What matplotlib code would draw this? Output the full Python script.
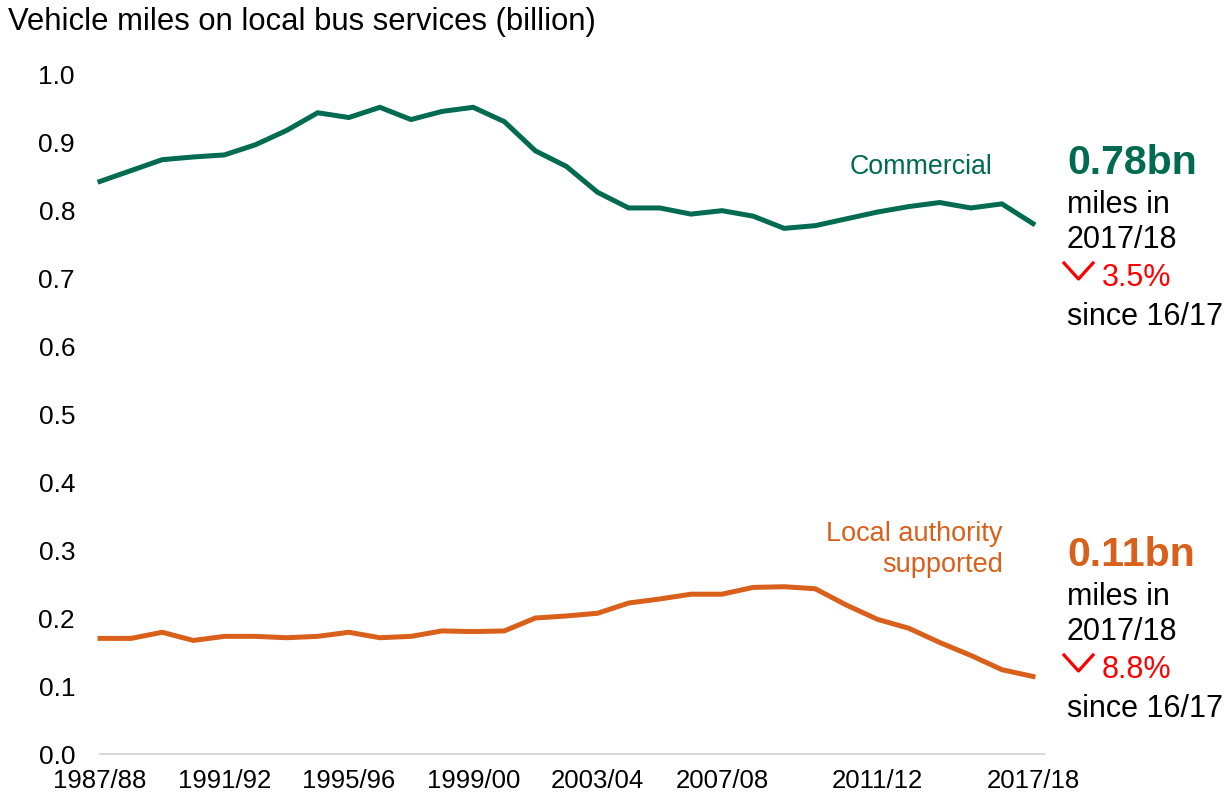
import numpy as np
import matplotlib
matplotlib.use("Agg")
import matplotlib.pyplot as plt
from matplotlib.lines import Line2D

plt.rcParams["font.family"] = ["Liberation Sans", "DejaVu Sans"]

# ---- data (billion vehicle miles) ----
years = [f"{y}/{str(y + 1)[-2:]}" for y in range(1987, 2018)]
commercial = [0.842, 0.858, 0.874, 0.878, 0.881, 0.896, 0.917, 0.943, 0.936, 0.951,
              0.933, 0.945, 0.951, 0.930, 0.887, 0.864, 0.826, 0.803, 0.803, 0.794,
              0.799, 0.791, 0.773, 0.777, 0.787, 0.797, 0.805, 0.811, 0.803, 0.809,
              0.780]
la_supported = [0.170, 0.170, 0.179, 0.167, 0.173, 0.173, 0.171, 0.173, 0.179, 0.171,
                0.173, 0.181, 0.180, 0.181, 0.200, 0.203, 0.207, 0.222, 0.228, 0.235,
                0.235, 0.245, 0.246, 0.243, 0.219, 0.198, 0.185, 0.164, 0.145, 0.124,
                0.114]
tick_idx = [0, 4, 8, 12, 16, 20, 25, 30]
tick_labels = ["1987/88", "1991/92", "1995/96", "1999/00", "2003/04", "2007/08",
               "2011/12", "2017/18"]
y_ticks = [0.0, 0.1, 0.2, 0.3, 0.4, 0.5, 0.6, 0.7, 0.8, 0.9, 1.0]

GREEN = "#006b50"
ORANGE = "#d8601a"
RED = "#ff0000"

W, H = 1231, 803
fig = plt.figure(figsize=(W / 100, H / 100), dpi=100)
ax = fig.add_axes([100 / W, 1 - 755 / H, 933 / W, 680 / H])

x = np.arange(len(years))
ax.plot(x, commercial, color=GREEN, lw=3.6, solid_joinstyle="miter", clip_on=False)
ax.plot(x, la_supported, color=ORANGE, lw=3.6, solid_joinstyle="miter", clip_on=False)

ax.set_xlim(0, len(years) - 1)
ax.set_ylim(0, 1.0)
ax.set_yticks(y_ticks)
ax.set_yticklabels([f"{v:.1f}" for v in y_ticks])
ax.set_xticks(tick_idx)
ax.set_xticklabels(tick_labels)
ax.tick_params(axis="y", length=0, pad=18, labelsize=19)
ax.tick_params(axis="x", length=0, pad=10, labelsize=18.5)
for s in ax.spines.values():
    s.set_visible(False)
ax.axhline(0, xmin=0, xmax=1.012, color="#d9d9d9", lw=1.5, clip_on=False)

# title
fig.text(8 / W, 1 - 22 / H, "Vehicle miles on local bus services (billion)",
         fontsize=22.3, va="center", ha="left")

# series labels
fig.text(921 / W, 1 - 167 / H, "Commercial", color=GREEN, fontsize=19.3,
         ha="center", va="center")
fig.text(1003 / W, 1 - 550 / H, "Local authority\nsupported", color=ORANGE,
         fontsize=19.5, ha="right", va="center", multialignment="right",
         linespacing=1.25)


def side_note(y_big, big, pct, color):
    fig.text(1067 / W, 1 - y_big / H, big, color=color, fontsize=29.5,
             fontweight="bold", ha="left", va="center")
    fig.text(1067 / W, 1 - (y_big + 42) / H, "miles in", fontsize=22, ha="left", va="center")
    fig.text(1067 / W, 1 - (y_big + 77) / H, "2017/18", fontsize=22, ha="left", va="center")
    fig.text(1102 / W, 1 - (y_big + 115) / H, pct, color=RED, fontsize=22,
             ha="left", va="center")
    fig.text(1067 / W, 1 - (y_big + 154) / H, "since 16/17", fontsize=22,
             ha="left", va="center")
    # red down chevron
    cy = y_big + 101
    xs = [1064 / W, 1078.5 / W, 1093 / W]
    ys = [1 - cy / H, 1 - (cy + 16) / H, 1 - cy / H]
    fig.add_artist(Line2D(xs, ys, color=RED, lw=2.3, transform=fig.transFigure))


side_note(163, "0.78bn", "3.5%", GREEN)
side_note(555, "0.11bn", "8.8%", ORANGE)

fig.savefig("out.png", dpi=100)
